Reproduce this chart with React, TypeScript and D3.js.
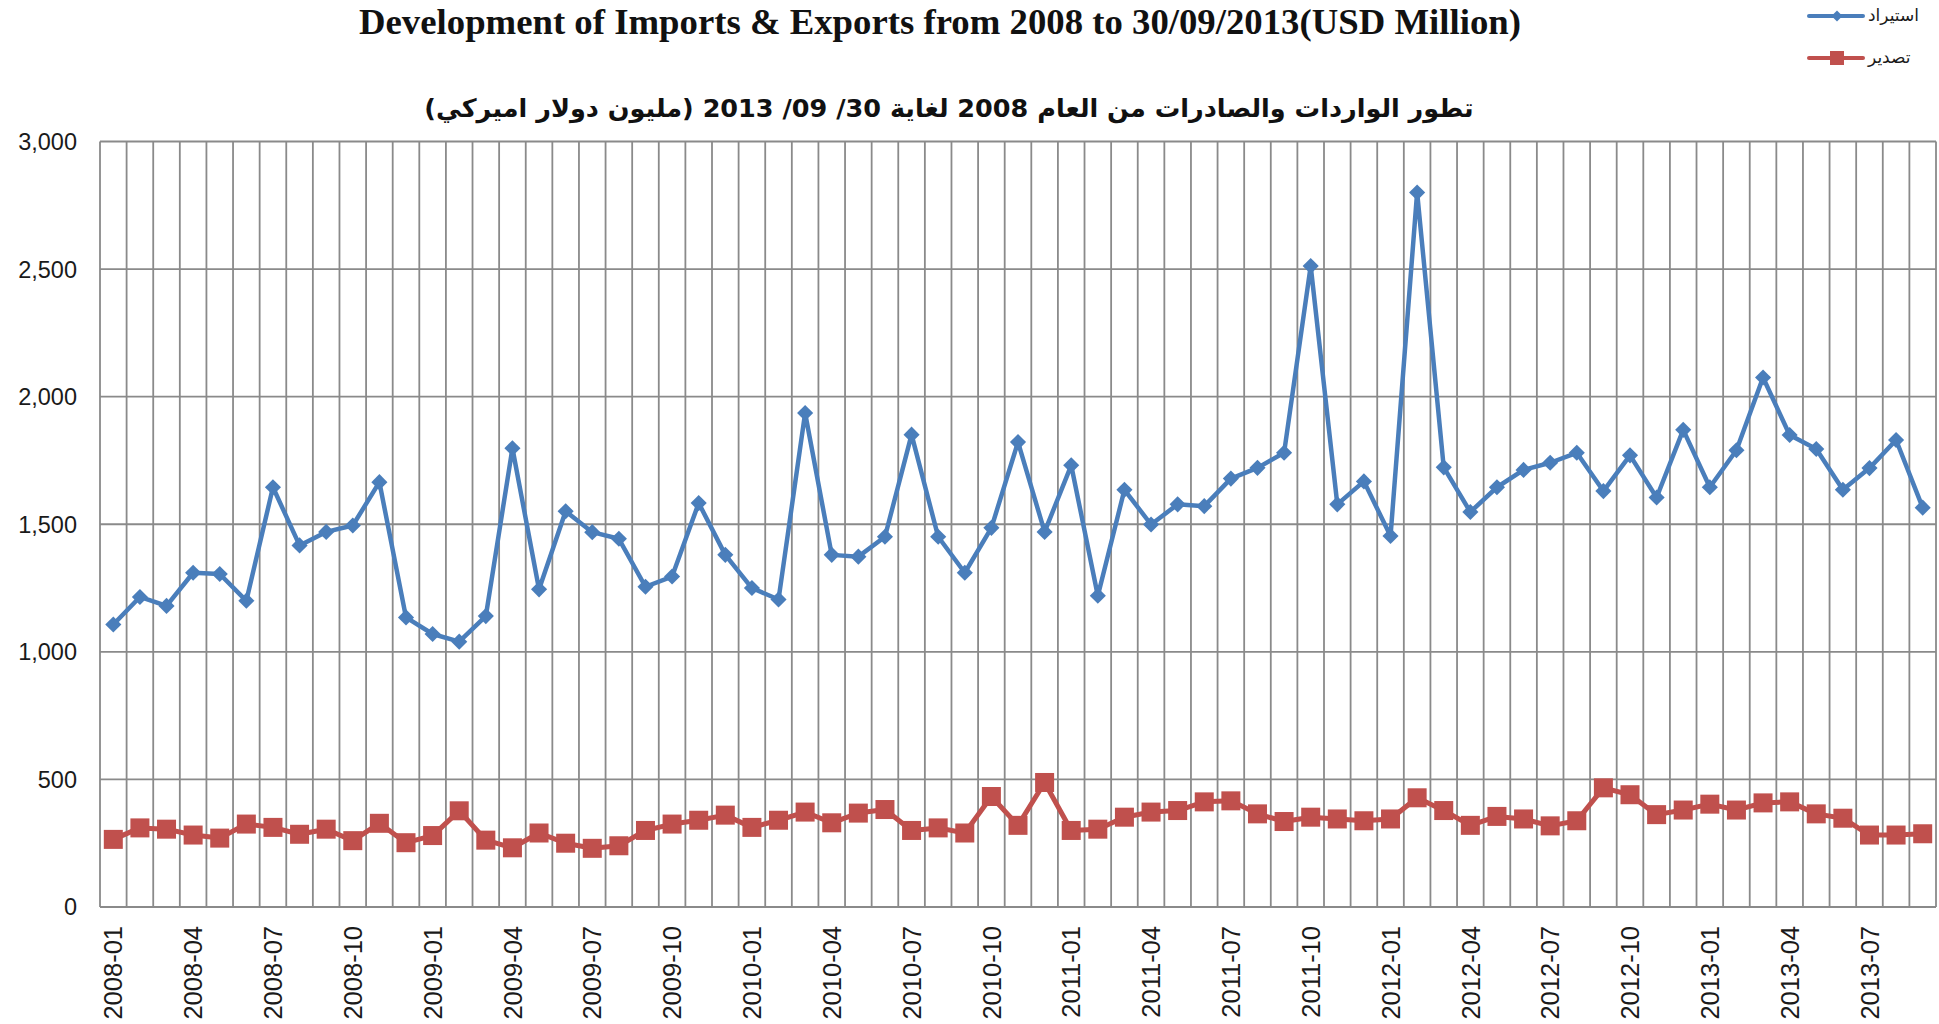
import { useRef, useEffect } from "react";
import { select, scaleBand, scaleLinear, line, symbol, symbolSquare, format } from "d3";

// months 2008-01 .. 2013-09
const months = [
  "2008-01", "2008-02", "2008-03", "2008-04", "2008-05", "2008-06", "2008-07", "2008-08", "2008-09", "2008-10", "2008-11", "2008-12",
  "2009-01", "2009-02", "2009-03", "2009-04", "2009-05", "2009-06", "2009-07", "2009-08", "2009-09", "2009-10", "2009-11", "2009-12",
  "2010-01", "2010-02", "2010-03", "2010-04", "2010-05", "2010-06", "2010-07", "2010-08", "2010-09", "2010-10", "2010-11", "2010-12",
  "2011-01", "2011-02", "2011-03", "2011-04", "2011-05", "2011-06", "2011-07", "2011-08", "2011-09", "2011-10", "2011-11", "2011-12",
  "2012-01", "2012-02", "2012-03", "2012-04", "2012-05", "2012-06", "2012-07", "2012-08", "2012-09", "2012-10", "2012-11", "2012-12",
  "2013-01", "2013-02", "2013-03", "2013-04", "2013-05", "2013-06", "2013-07", "2013-08", "2013-09",
];

// استيراد (imports)
const imports = [
  1107, 1215, 1180, 1310, 1305, 1200, 1645, 1417, 1470, 1495, 1665, 1135,
  1070, 1040, 1140, 1798, 1245, 1551, 1469, 1443, 1255, 1295, 1583, 1380,
  1250, 1205, 1936, 1380, 1373, 1451, 1851, 1451, 1310, 1486, 1822, 1470,
  1731, 1220, 1635, 1499, 1578, 1571, 1679, 1721, 1780, 2512, 1578, 1668,
  1454, 2800, 1723, 1548, 1645, 1713, 1741, 1780, 1630, 1770, 1605, 1870,
  1645, 1790, 2075, 1850, 1795, 1635, 1720, 1830, 1565,
];

// تصدير (exports)
const exports = [
  265, 310, 305, 282, 270, 325, 312, 285, 305, 260, 328, 252,
  280, 377, 262, 232, 290, 250, 230, 240, 300, 325, 340, 360,
  312, 340, 372, 330, 368, 382, 300, 310, 290, 433, 320, 488,
  300, 305, 352, 372, 378, 412, 416, 365, 335, 352, 345, 338,
  345, 428, 378, 320, 355, 345, 318, 338, 467, 440, 362, 380,
  403, 380, 408, 412, 365, 348, 282, 282, 287,
];

const yTicks = [0, 500, 1000, 1500, 2000, 2500, 3000];
const xTickLabels = months.filter((_m, i) => i % 3 === 0);

const titleEn = "Development of Imports & Exports from 2008 to 30/09/2013(USD Million)";
const titleAr = "تطور الواردات والصادرات من العام 2008 لغاية 30/ 09/ 2013 (مليون دولار اميركي)";
const legendNames = ["استيراد", "تصدير"];

const BLUE = "#4a7ebb";
const RED = "#c0504d";
const GRID = "#8a8a8a";

const App = () => {
  const ref = useRef<SVGSVGElement>(null);

  useEffect(() => {
    document.body.style.margin = "0";
    if (!ref.current) return;
    const svg = select(ref.current);
    svg.selectAll("*").remove();

    const left = 100;
    const right = 1936;
    const top = 141.5;
    const bottom = 907;

    const x = scaleBand<string>().domain(months).range([left, right]).padding(0);
    const y = scaleLinear().domain([0, 3000]).range([bottom, top]);
    const cx = (m: string) => (x(m) as number) + x.bandwidth() / 2;

    // horizontal grid
    svg
      .append("g")
      .selectAll("line")
      .data(yTicks)
      .enter()
      .append("line")
      .attr("x1", left)
      .attr("x2", right)
      .attr("y1", (d) => y(d))
      .attr("y2", (d) => y(d))
      .attr("stroke", GRID)
      .attr("stroke-width", 1.8);

    // vertical grid (category boundaries)
    const bounds = months.map((m) => x(m) as number).concat([right]);
    svg
      .append("g")
      .selectAll("line")
      .data(bounds)
      .enter()
      .append("line")
      .attr("x1", (d) => d)
      .attr("x2", (d) => d)
      .attr("y1", top)
      .attr("y2", bottom)
      .attr("stroke", GRID)
      .attr("stroke-width", 1.8);

    // y labels
    const fmt = format(",");
    svg
      .append("g")
      .selectAll("text")
      .data(yTicks)
      .enter()
      .append("text")
      .attr("x", 77)
      .attr("y", (d) => y(d))
      .attr("dy", "0.36em")
      .attr("text-anchor", "end")
      .attr("font-family", "Liberation Sans, Arial, sans-serif")
      .attr("font-size", 23.5)
      .attr("fill", "#1a1a1a")
      .text((d) => fmt(d));

    // x labels
    svg
      .append("g")
      .selectAll("text")
      .data(xTickLabels)
      .enter()
      .append("text")
      .attr("transform", (d) => `translate(${cx(d)}, ${bottom + 19}) rotate(-90)`)
      .attr("dy", "0.36em")
      .attr("text-anchor", "end")
      .attr("font-family", "Liberation Sans, Arial, sans-serif")
      .attr("font-size", 25.5)
      .attr("fill", "#1a1a1a")
      .text((d) => d);

    const lineGen = line<number>()
      .x((_d, i) => cx(months[i]))
      .y((d) => y(d));

    // exports
    svg
      .append("path")
      .datum(exports)
      .attr("fill", "none")
      .attr("stroke", RED)
      .attr("stroke-width", 5)
      .attr("stroke-linejoin", "round")
      .attr("d", lineGen);
    svg
      .append("g")
      .selectAll("rect")
      .data(exports)
      .enter()
      .append("rect")
      .attr("x", (_d, i) => cx(months[i]) - 9.5)
      .attr("y", (d) => y(d) - 9.5)
      .attr("width", 19)
      .attr("height", 19)
      .attr("fill", RED);

    // imports
    svg
      .append("path")
      .datum(imports)
      .attr("fill", "none")
      .attr("stroke", BLUE)
      .attr("stroke-width", 4.5)
      .attr("stroke-linejoin", "round")
      .attr("d", lineGen);
    const diamond = symbol().type(symbolSquare).size(130)();
    svg
      .append("g")
      .selectAll("path")
      .data(imports)
      .enter()
      .append("path")
      .attr("d", diamond)
      .attr("transform", (d, i) => `translate(${cx(months[i])}, ${y(d)}) rotate(45)`)
      .attr("fill", BLUE);

    // titles
    svg
      .append("text")
      .attr("x", 940)
      .attr("y", 34)
      .attr("text-anchor", "middle")
      .attr("font-family", "Liberation Serif, Times New Roman, serif")
      .attr("font-weight", "bold")
      .attr("font-size", 36)
      .attr("textLength", 1162)
      .attr("lengthAdjust", "spacingAndGlyphs")
      .attr("fill", "#111")
      .text(titleEn);

    svg
      .append("text")
      .attr("x", 949)
      .attr("y", 117)
      .attr("text-anchor", "middle")
      .attr("direction", "rtl")
      .attr("font-family", "DejaVu Sans, sans-serif")
      .attr("font-weight", "bold")
      .attr("font-size", 25.5)
      .attr("fill", "#111")
      .text(titleAr);

    // legend
    const lg = svg.append("g");
    const ly = [16, 58];
    [BLUE, RED].forEach((c, i) => {
      lg.append("line")
        .attr("x1", 1809)
        .attr("x2", 1863)
        .attr("y1", ly[i])
        .attr("y2", ly[i])
        .attr("stroke", c)
        .attr("stroke-width", 4)
        .attr("stroke-linecap", "round");
      if (i === 0) {
        lg.append("path")
          .attr("d", symbol().type(symbolSquare).size(60)())
          .attr("transform", `translate(1837, ${ly[i]}) rotate(45)`)
          .attr("fill", c);
      } else {
        lg.append("rect")
          .attr("x", 1830)
          .attr("y", ly[i] - 7)
          .attr("width", 14)
          .attr("height", 14)
          .attr("fill", c);
      }
      lg.append("text")
        .attr("x", 1868)
        .attr("y", ly[i])
        .attr("dy", "0.3em")
        .attr("font-family", "DejaVu Sans, sans-serif")
        .attr("font-size", 17)
        .attr("fill", "#1a1a1a")
        .text(legendNames[i]);
    });
  }, []);

  return <svg ref={ref} width={1939} height={1024} style={{ display: "block", background: "#fff" }} />;
};

export default App;
